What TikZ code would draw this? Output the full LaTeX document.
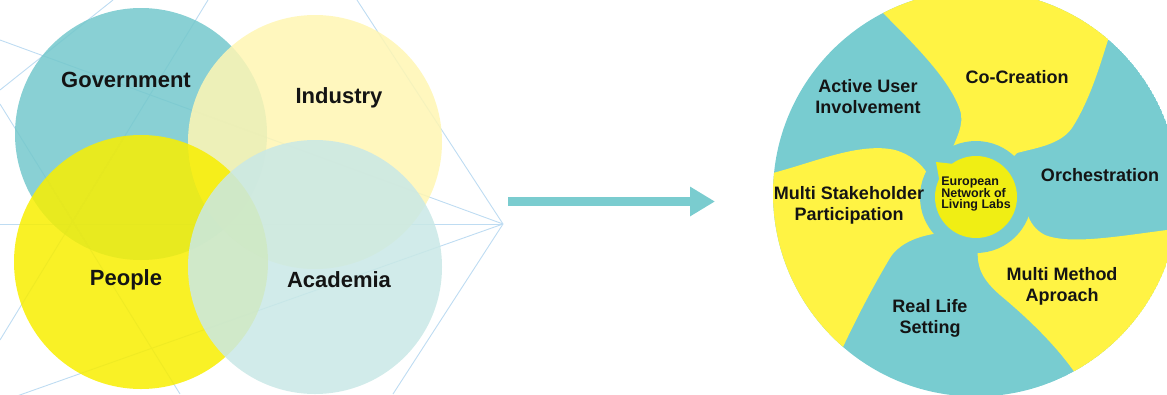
\documentclass[tikz,border=0pt]{standalone}
\usepackage{fontspec}
\setmainfont{Liberation Sans}
\usetikzlibrary{arrows.meta}
\definecolor{govc}{RGB}{116,200,204}
\definecolor{indc}{RGB}{255,246,179}
\definecolor{peoc}{RGB}{248,238,0}
\definecolor{acac}{RGB}{201,232,230}
\definecolor{meshc}{RGB}{190,220,242}
\definecolor{tealc}{RGB}{120,204,208}
\definecolor{yelc}{RGB}{255,243,68}
\definecolor{ctrc}{RGB}{240,238,20}
\definecolor{arrc}{RGB}{122,204,207}
\definecolor{txtc}{RGB}{20,20,20}
\begin{document}
\begin{tikzpicture}[x=1pt,y=-1pt,
  venn/.style={circle, minimum size=254pt, inner sep=0pt, fill opacity=0.85},
  vlabel/.style={font=\fontsize{22}{24}\selectfont\bfseries, text=txtc},
  slabel/.style={font=\fontsize{18}{21}\selectfont\bfseries, text=txtc, align=center},
  clabel/.style={font=\fontsize{12.5}{11}\selectfont\bfseries, text=txtc, align=left, inner sep=0pt},
  mesh/.style={draw=meshc, line width=0.9pt},
  petal/.style={fill=yelc}]
\useasboundingbox (0,0) rectangle (1167,394);
% background mesh
\begin{scope}
\clip (0,0) rectangle (1167,394);
\coordinate (hub) at (503,224);
\draw[mesh] (0,40) -- (hub);
\draw[mesh] (113,0) -- (0,90);
\draw[mesh] (208,0) -- (0,340);
\draw[mesh] (0,104) -- (180,394);
\draw[mesh] (hub) -- (0,402);
\draw[mesh] (357,0) -- (hub);
\draw[mesh] (hub) -- (393,394);
\draw[mesh] (0,224) -- (hub);
\end{scope}
% Venn circles
\node[venn, fill=govc, minimum size=252pt] (gov) at (141,134) {};
\node[venn, fill=indc] (ind) at (315,142) {};
\node[venn, fill=peoc] (peo) at (141,262) {};
\node[venn, fill=acac] (aca) at (315,267) {};
\node[vlabel] (govt) at (126,80) {Government};
\node[vlabel] (indt) at (339,98) {Industry};
\node[vlabel] (peot) at (126,280) {People};
\node[vlabel] (acat) at (339,280) {Academia};
% arrow
\coordinate (as) at (508,201.5);
\coordinate (ae) at (715,201.5);
\draw[arrc, line width=9pt, -{Triangle[length=25pt,width=28pt]}] (as) -- (ae);
% right wheel
\begin{scope}
\clip (976,193.5) circle[radius=203];
\fill[tealc] (976,193.5) circle[radius=203];
\fill[petal] (860,-20) -- (883,13) .. controls (915,45) and (950,80) .. (960,110)
  .. controls (965,125) and (955,140) .. (952,150) -- (976,197) -- (1017,153)
  .. controls (1035,148) and (1060,145) .. (1072,128)
  .. controls (1090,100) and (1100,65) .. (1108,40) -- (1125,-20) -- cycle;
\fill[petal] (1200,225) -- (1167,230) .. controls (1120,236) and (1070,245) .. (1045,235)
  .. controls (1035,230) and (1030,222) .. (1027,213) -- (976,197) -- (978,247)
  .. controls (976,268) and (983,280) .. (1000,295)
  .. controls (1030,320) and (1055,345) .. (1073,370) -- (1090,400) -- (1200,400) -- cycle;
\fill[petal] (740,178) -- (773,173) .. controls (815,162) and (860,142) .. (895,150)
  .. controls (912,155) and (922,165) .. (927,173) -- (976,197) -- (940,233)
  .. controls (915,236) and (898,245) .. (890,258)
  .. controls (875,283) and (858,315) .. (843,347) -- (830,380) -- (740,380) -- cycle;
\end{scope}
\fill[tealc] (976,197) circle[radius=56];
\fill[ctrc] (976,197) circle[radius=41];
\fill[ctrc] (939.5,181) -- (936,162) -- (954,164) -- cycle;
\node[slabel] (aui) at (868,97) {Active User\\Involvement};
\node[slabel] (coc) at (1017,77) {Co-Creation};
\node[slabel] (orc) at (1100,175) {Orchestration};
\node[slabel] (msp) at (849,205) {Multi Stakeholder\\Participation};
\node[slabel] (mma) at (1062,286) {Multi Method\\Aproach};
\node[slabel] (rls) at (930,318) {Real Life\\Setting};
\node[clabel] (enll) at (976,194) {European\\Network of\\Living Labs};
\end{tikzpicture}
\end{document}
